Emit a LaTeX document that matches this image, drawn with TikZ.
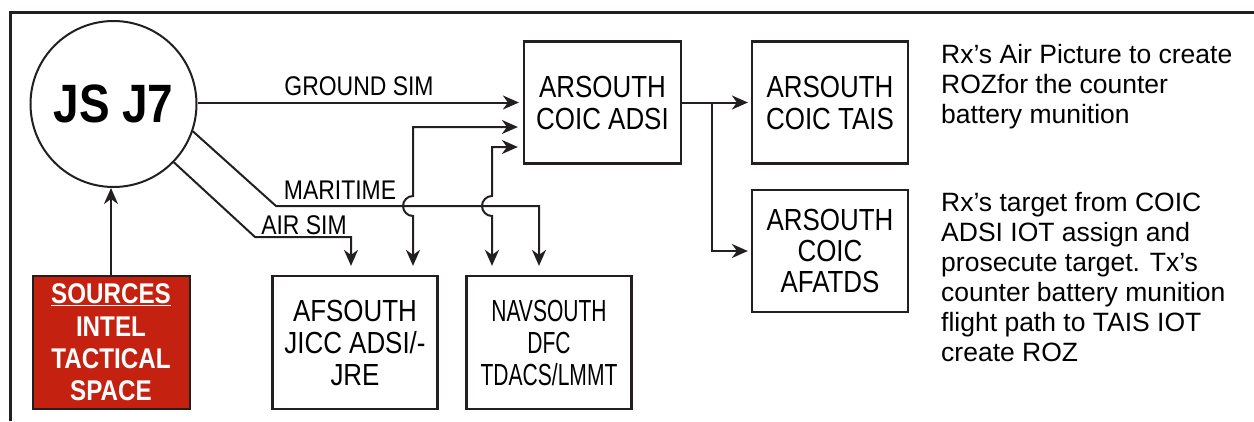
\documentclass[tikz,border=0pt]{standalone}
\usepackage{fontspec}
\setmainfont{Liberation Sans}[FakeStretch=0.85]
\newfontfamily\notefont{Liberation Sans}
\newfontfamily\narrowfont{Liberation Sans}[FakeStretch=0.69]
\usetikzlibrary{arrows.meta}
\definecolor{ink}{HTML}{231F20}
\definecolor{srcred}{HTML}{C42110}

\begin{document}
\begin{tikzpicture}[x=1pt,y=-1pt,
    box/.style={draw=ink, line width=2.2pt, minimum width=157pt, minimum height=122pt,
      align=center, inner sep=0pt, font=\fontsize{30.5}{32}\selectfont},
    arr/.style={draw=ink, line width=2pt, -{Stealth[length=16pt,width=14pt,inset=5pt]}},
    both/.style={draw=ink, line width=2pt,
      {Stealth[length=16pt,width=14pt,inset=5pt]}-{Stealth[length=16pt,width=14pt,inset=5pt]}},
    lbl/.style={inner sep=0pt, font=\fontsize{27}{28}\selectfont},
    note/.style={anchor=north west, inner sep=0pt, align=left,
      font=\notefont\fontsize{26.5}{30}\selectfont}]
  \useasboundingbox (0,0) rectangle (1254,421);
  % Frame
  \draw[ink, line width=3pt] (10.5,421) -- (10.5,12) -- (1254,12);
  % Nodes
  \node[draw=ink, line width=2pt, circle, minimum size=166pt, inner sep=0pt,
    font=\bfseries\fontsize{54}{56}\selectfont] (js) at (113.5,104) {JS J7};
  \node[draw=ink, line width=2pt, fill=srcred, text=white, minimum width=157pt,
    minimum height=133pt, inner sep=0pt, align=center,
    font=\bfseries\fontsize{28.5}{32.3}\selectfont] (src) at (111,342.5)
    {\underline{SOURCES}\\INTEL\\TACTICAL\\SPACE};
  \node[box] (adsi) at (602.5,102.5) {ARSOUTH\\COIC ADSI};
  \node[box, minimum width=156pt] (tais) at (830,102.5) {ARSOUTH\\COIC TAIS};
  \node[box, minimum width=156pt, font=\fontsize{30.5}{31}\selectfont] (afatds) at (830,251)
    {ARSOUTH\\COIC\\AFATDS};
  \node[box, minimum width=165pt, minimum height=133pt] (afs) at (355,342.5)
    {AFSOUTH\\JICC ADSI/-\\JRE};
  \node[box, minimum width=165pt, minimum height=133pt,
    font=\narrowfont\fontsize{30.5}{32}\selectfont] (nav) at (549,342.5)
    {NAVSOUTH\\DFC\\TDACS/LMMT};
  % Notes
  \node[note] (note1) at (941,44) {Rx’s Air Picture to create\\ROZfor the counter\\battery munition};
  \node[note] (note2) at (941,192) {Rx’s target from COIC\\ADSI IOT assign and\\prosecute target. Tx’s\\counter battery munition\\flight path to TAIS IOT\\create ROZ};
  % Bends and hops
  \coordinate (mbend) at (276,206);
  \coordinate (abend) at (255,237);
  \coordinate (hopA) at (413,206);
  \coordinate (hopB) at (492,206);
  % Links
  \draw[arr] (src.north) -- (src.north |- js.south);
  \draw[arr, shorten >=4pt] (js.east |- adsi.west) -- (adsi.west);
  \draw[arr, shorten >=9pt] (js.-19) -- (mbend) -| ([xshift=-10pt]nav.north);
  \draw[arr, shorten >=9pt] (js.-44) -- (abend) -| ([xshift=-4pt]afs.north);
  \draw[both, shorten <=5pt, shorten >=9pt] ([yshift=-24.5pt]adsi.west) -| ([yshift=10pt]hopA)
    arc[start angle=270, end angle=90, radius=10] -- ([xshift=58pt]afs.north);
  \draw[both, shorten <=5pt, shorten >=9pt] ([yshift=-44.5pt]adsi.west) -| ([yshift=10pt]hopB)
    arc[start angle=270, end angle=90, radius=10] -- ([xshift=-57pt]nav.north);
  \draw[arr, shorten >=3pt] (adsi.east) -- (tais.west);
  \draw[arr, shorten >=3pt] ([xshift=30pt]adsi.east) |- (afatds.west);
  % Labels
  \node[lbl] (lground) at (359,86) {GROUND SIM};
  \node[lbl] (lmar) at (340,190) {MARITIME};
  \node[lbl] (lair) at (304,225) {AIR SIM};
\end{tikzpicture}
\end{document}
